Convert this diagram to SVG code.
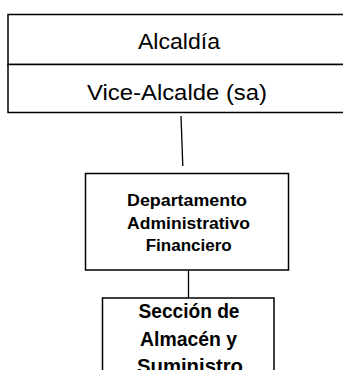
<svg xmlns="http://www.w3.org/2000/svg" width="343" height="370" viewBox="0 0 343 370">
<style>
.box{fill:#fff;stroke:#000;stroke-width:1.5}
.ln{stroke:#000;stroke-width:1.3;fill:none}
.t1{font-family:"Liberation Sans",Arial,sans-serif;font-size:22px;fill:#000;text-anchor:middle}
.t2{font-family:"Liberation Sans",Arial,sans-serif;font-size:16px;font-weight:bold;fill:#000;text-anchor:middle}
.t3{font-family:"Liberation Sans",Arial,sans-serif;font-size:20px;font-weight:bold;fill:#000;text-anchor:middle}
</style>
<rect width="343" height="370" fill="#fff"/>
<g id="alcaldia">
<rect class="box" x="8" y="14.5" width="345" height="50"/>
<text class="t1" x="179" y="49" textLength="82" lengthAdjust="spacingAndGlyphs">Alcaldía</text>
</g>
<g id="vice-alcalde">
<rect class="box" x="8" y="64.5" width="345" height="48"/>
<text class="t1" x="177" y="100" textLength="180" lengthAdjust="spacingAndGlyphs">Vice-Alcalde (sa)</text>
</g>
<g id="connectors">
<line class="ln" x1="181" y1="116" x2="182.8" y2="166"/>
<line class="ln" x1="188.5" y1="270" x2="188.5" y2="298"/>
</g>
<g id="departamento">
<rect class="box" x="85.5" y="173.5" width="203" height="96.5"/>
<text class="t2" x="187" y="206" textLength="120" lengthAdjust="spacingAndGlyphs">Departamento</text>
<text class="t2" x="188.5" y="229" textLength="123" lengthAdjust="spacingAndGlyphs">Administrativo</text>
<text class="t2" x="188.7" y="251" textLength="86" lengthAdjust="spacingAndGlyphs">Financiero</text>
</g>
<g id="seccion">
<rect class="box" x="102.5" y="298" width="171.5" height="90"/>
<text class="t3" x="189" y="318" textLength="101" lengthAdjust="spacingAndGlyphs">Sección de</text>
<text class="t3" x="188.5" y="345.5" textLength="97" lengthAdjust="spacingAndGlyphs">Almacén y</text>
<text class="t3" x="190" y="373" textLength="106" lengthAdjust="spacingAndGlyphs">Suministro</text>
</g>
</svg>
